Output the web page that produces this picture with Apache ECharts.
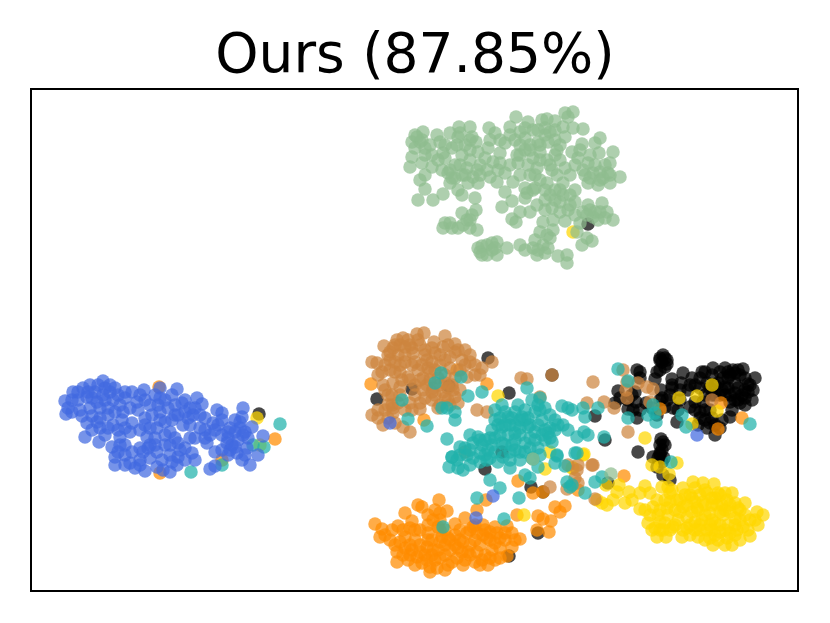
<!DOCTYPE html>
<html><head><meta charset="utf-8">
<script src="https://cdn.jsdelivr.net/npm/echarts@6/dist/echarts.min.js"></script>
<style>html,body{margin:0;background:#fff}#c{width:830px;height:623px}</style></head>
<body><div id="c"></div>
<script>
const titleText = "Ours (87.85%)";
const black = [[663,355],[662,362],[667,364],[637,370],[640,372],[657,372],[655,379],[683,373],[672,379],[681,383],[702,372],[713,368],[725,368],[743,369],[755,378],[700,378],[712,375],[723,378],[735,373],[745,378],[735,383],[725,387],[753,390],[745,390],[735,393],[725,395],[752,400],[740,403],[730,402],[707,383],[695,385],[672,388],[661,390],[688,390],[703,402],[700,412],[690,407],[667,400],[665,407],[673,408],[618,391],[635,392],[636,402],[615,403],[628,409],[637,418],[646,403],[657,415],[677,422],[730,417],[710,423],[707,428],[715,435],[700,418],[595,416],[605,440],[638,452],[661,439],[665,445],[660,453],[662,462],[657,467],[658,458],[660,455],[653,457],[670,480],[663,475],[608,483],[588,224],[259,414],[552,375],[412,389],[377,399],[488,358],[449,386],[509,393],[485,469],[531,487],[543,492],[538,533],[509,556],[502,452],[715,385],[728,378],[738,388],[748,384],[720,395],[705,395],[732,410],[742,395],[720,372],[730,375],[740,375],[715,395],[735,400],[745,398],[710,410],[695,410],[705,410],[728,388],[748,392],[733,370],[718,383],[705,372],[692,378],[660,358],[665,358],[640,378],[628,400],[633,410],[670,395],[660,400],[678,410],[698,425],[712,418],[722,420],[660,445],[662,450],[664,458],[663,442],[728,372],[738,370],[750,385],[722,390],[712,395],[730,395],[738,400],[745,405],[700,388],[710,388],[690,385],[680,390],[662,398],[652,408],[640,410],[620,398],[632,395],[660,370],[672,385],[680,400],[695,402],[705,420],[715,425],[720,428],[667,360],[665,367],[660,360]];
const orange = [[375,524],[382,529],[380,537],[390,540],[398,526],[405,513],[412,521],[418,505],[422,507],[439,500],[435,510],[447,511],[428,515],[440,520],[428,525],[455,524],[465,518],[483,525],[495,527],[507,526],[512,533],[520,539],[405,537],[415,540],[428,533],[440,542],[455,535],[467,533],[477,533],[487,538],[500,538],[397,552],[397,562],[405,548],[417,557],[427,547],[422,563],[430,567],[437,568],[440,558],[448,565],[457,558],[458,548],[475,562],[477,552],[488,565],[500,558],[507,556],[492,550],[512,547],[480,545],[463,542],[412,550],[438,550],[450,550],[445,545],[470,545],[485,530],[473,527],[432,555],[452,562],[462,552],[495,543],[400,542],[410,545],[420,545],[432,540],[445,530],[460,530],[475,540],[490,532],[505,540],[395,545],[420,530],[415,530],[435,560],[445,555],[468,552],[485,555],[495,560],[482,560],[450,540],[410,555],[425,555],[465,560],[500,548],[475,525],[440,530],[385,535],[392,530],[403,530],[410,528],[433,520],[440,513],[403,555],[408,560],[415,565],[427,560],[433,550],[442,537],[455,545],[460,540],[470,530],[483,535],[490,540],[497,533],[505,533],[515,540],[480,565],[490,558],[470,555],[463,565],[445,570],[430,572],[420,552],[428,540],[438,527],[448,538],[518,481],[486,500],[533,493],[543,492],[517,515],[477,510],[538,516],[543,519],[551,521],[555,507],[560,512],[565,506],[537,530],[549,532],[159,387],[160,473],[222,460],[275,439],[371,384],[457,370],[487,384],[424,420],[721,403],[742,418],[718,429],[660,409],[624,476],[578,490]];
const gold = [[619,485],[617,492],[597,500],[602,503],[607,505],[613,500],[625,503],[629,492],[632,500],[640,493],[645,486],[650,493],[662,487],[668,487],[670,493],[683,488],[693,482],[703,483],[714,484],[695,488],[707,493],[718,493],[732,493],[745,503],[640,509],[657,500],[653,507],[667,508],[648,523],[658,515],[665,523],[677,500],[687,505],[697,508],[703,502],[717,505],[727,500],[738,508],[687,517],[710,513],[723,515],[735,518],[757,512],[763,515],[750,520],[758,525],[657,537],[666,537],[673,527],[682,537],[687,528],[698,537],[707,530],[705,540],[713,545],[720,532],[727,538],[732,545],[737,530],[750,536],[743,527],[715,523],[655,528],[695,522],[680,512],[702,520],[728,525],[722,505],[692,498],[660,530],[665,500],[675,510],[690,495],[700,495],[712,498],[735,503],[725,510],[712,520],[700,530],[690,535],[678,520],[668,515],[660,522],[650,515],[720,525],[730,533],[745,515],[735,525],[715,535],[705,515],[720,495],[730,505],[692,512],[740,540],[710,525],[672,490],[685,495],[705,490],[715,498],[725,493],[740,510],[755,520],[748,530],[735,535],[725,545],[718,540],[700,525],[695,530],[683,530],[675,525],[670,530],[663,530],[652,530],[660,510],[645,510],[680,500],[683,507],[695,502],[705,505],[712,505],[720,512],[730,512],[740,520],[725,530],[712,530],[690,525],[670,502],[710,538],[698,510],[606,485],[652,465],[660,467],[669,474],[677,463],[712,385],[697,396],[679,398],[717,411],[692,424],[645,438],[583,455],[573,232],[257,418],[260,445],[498,396],[545,469],[572,468],[524,515],[550,452],[573,468],[584,454]];
const peru = [[424,333],[417,334],[403,338],[397,340],[384,346],[393,348],[405,347],[418,340],[445,336],[434,342],[455,344],[443,347],[465,350],[413,353],[398,355],[390,360],[405,362],[427,360],[435,353],[450,357],[462,360],[470,362],[492,362],[482,368],[475,375],[467,377],[372,362],[377,363],[382,372],[378,375],[395,372],[408,377],[418,370],[428,368],[450,368],[383,385],[393,383],[400,387],[423,378],[388,395],[423,390],[432,400],[448,388],[443,392],[455,397],[458,403],[445,398],[372,415],[378,410],[393,408],[392,405],[410,403],[420,403],[420,409],[383,425],[395,423],[410,432],[403,427],[393,413],[438,408],[477,410],[487,412],[521,378],[527,379],[540,397],[552,375],[410,345],[440,365],[455,378],[412,365],[400,372],[438,378],[433,388],[400,345],[412,348],[425,350],[440,355],[455,352],[470,355],[420,345],[430,372],[400,365],[390,370],[385,390],[402,380],[415,385],[425,398],[415,395],[440,385],[452,385],[400,395],[410,380],[385,410],[388,418],[450,405],[460,370],[445,360],[480,375],[425,355],[432,362],[390,352],[445,375],[415,362],[408,340],[395,345],[388,355],[432,348],[448,345],[458,350],[465,365],[475,365],[385,365],[395,362],[405,355],[422,365],[435,370],[420,380],[430,380],[445,383],[392,395],[398,403],[405,410],[412,410],[388,405],[378,418],[432,392],[427,385],[453,390],[440,405],[448,400],[435,395],[460,390],[623,370],[593,382],[627,382],[638,383],[626,390],[627,398],[647,387],[653,389],[587,403],[604,402],[614,408],[650,402],[628,432],[712,400],[578,465],[592,465],[550,487],[567,489],[575,478],[577,470],[568,465],[465,452],[595,499],[578,483],[593,465]];
const seagreen = [[495,410],[502,405],[518,405],[532,400],[540,398],[545,408],[562,406],[568,408],[572,410],[522,417],[508,417],[542,420],[555,420],[563,425],[492,430],[502,427],[515,433],[528,427],[548,433],[470,435],[473,443],[492,445],[482,445],[460,447],[452,457],[467,455],[480,453],[502,443],[508,435],[525,443],[538,448],[557,456],[552,442],[532,458],[568,430],[449,467],[452,457],[463,470],[473,458],[487,460],[503,457],[510,468],[520,460],[533,459],[538,467],[525,475],[557,455],[555,463],[565,466],[575,453],[490,480],[500,488],[477,498],[519,498],[504,519],[443,527],[530,478],[567,482],[570,487],[510,425],[520,420],[535,412],[530,438],[515,450],[545,440],[500,418],[512,445],[515,412],[525,410],[538,425],[550,428],[495,420],[490,438],[500,435],[520,435],[535,432],[510,452],[495,452],[488,450],[460,455],[465,448],[478,437],[515,425],[528,418],[540,410],[555,430],[530,448],[520,452],[545,430],[505,412],[485,455],[498,425],[512,418],[525,420],[538,405],[550,415],[558,425],[480,440],[485,440],[495,438],[505,445],[520,428],[530,425],[542,435],[550,438],[540,455],[470,450],[457,460],[490,458],[498,462],[510,460],[525,452],[535,440],[515,440],[505,425],[480,462],[470,465],[458,468],[595,482],[602,477],[585,493],[572,485],[441,373],[435,383],[461,377],[468,396],[482,392],[402,400],[408,419],[427,426],[442,408],[447,408],[455,412],[455,420],[447,439],[527,388],[618,369],[628,381],[598,408],[583,408],[585,417],[584,432],[588,435],[628,418],[653,405],[655,413],[648,415],[656,422],[682,415],[686,427],[750,424],[604,437],[671,462],[577,453],[577,437],[280,424],[253,445],[264,447],[191,472],[222,465]];
const sage = [[565,113],[573,112],[568,117],[516,117],[510,127],[528,122],[542,120],[547,119],[555,121],[563,127],[573,128],[583,129],[520,132],[533,130],[550,132],[565,137],[538,142],[525,138],[582,144],[600,138],[595,143],[613,152],[599,153],[572,152],[557,150],[540,152],[533,158],[417,137],[412,142],[423,132],[420,142],[437,135],[450,133],[459,127],[470,127],[458,137],[472,137],[476,142],[489,128],[495,133],[490,140],[412,157],[425,155],[410,167],[422,163],[432,167],[440,142],[452,148],[443,153],[457,145],[470,150],[478,152],[488,148],[505,143],[500,153],[517,155],[493,162],[442,170],[448,173],[467,168],[477,170],[473,177],[468,183],[450,183],[478,183],[490,177],[505,173],[497,182],[513,182],[528,165],[537,168],[547,160],[518,163],[420,180],[425,189],[418,200],[433,200],[443,194],[462,195],[475,198],[505,192],[512,201],[502,207],[527,193],[533,190],[525,198],[557,175],[563,183],[547,183],[570,175],[578,158],[588,163],[600,172],[610,163],[620,177],[610,183],[598,185],[588,183],[593,173],[608,173],[570,195],[550,195],[575,202],[560,202],[552,208],[568,210],[537,205],[588,205],[602,203],[607,212],[613,220],[593,217],[583,212],[598,220],[565,221],[580,223],[587,238],[582,245],[592,241],[577,232],[543,222],[553,230],[540,232],[550,238],[543,245],[533,248],[545,253],[537,255],[525,250],[520,245],[530,212],[520,212],[512,219],[516,222],[558,256],[567,255],[567,263],[445,223],[450,223],[443,228],[458,228],[462,213],[467,220],[476,210],[472,215],[470,228],[477,230],[478,248],[487,245],[497,242],[487,255],[497,255],[507,248],[492,250],[480,252],[535,175],[540,145],[545,190],[460,165],[415,148],[430,145],[445,145],[432,155],[462,155],[470,160],[455,165],[480,165],[510,135],[530,145],[545,135],[555,140],[560,160],[575,165],[590,155],[605,165],[600,180],[585,175],[550,165],[525,150],[510,165],[530,175],[540,180],[555,190],[563,195],[575,190],[600,212],[590,210],[570,205],[545,210],[465,175],[455,178],[480,175],[520,175],[540,160],[425,175],[485,158],[498,170],[520,145],[553,220],[548,248],[492,243],[482,246],[470,220],[438,160],[450,170],[500,140],[470,140],[555,155],[610,175],[595,212],[605,218],[460,133],[465,145],[445,158],[425,148],[462,175],[452,178],[458,190],[487,170],[500,163],[515,140],[525,128],[538,130],[545,128],[555,130],[548,142],[560,145],[530,150],[520,155],[535,188],[552,170],[565,168],[583,170],[595,165],[580,150],[590,178],[603,178],[555,200],[560,190],[575,215],[587,215],[545,200],[560,212],[535,240],[547,235],[538,250],[495,248],[482,255],[463,225],[452,228],[525,188],[422,140],[415,135],[611,474],[533,459]];
const blue = [[65,401],[73,392],[66,414],[72,412],[72,400],[83,388],[90,385],[103,381],[95,392],[87,397],[105,388],[115,388],[97,402],[90,408],[100,408],[113,400],[120,405],[108,415],[87,423],[97,422],[113,425],[105,435],[99,442],[85,437],[132,392],[144,390],[137,402],[130,408],[122,420],[138,410],[132,423],[120,437],[130,432],[140,430],[112,447],[120,445],[115,457],[115,465],[125,455],[130,463],[135,468],[145,471],[132,452],[140,448],[147,437],[150,458],[157,467],[170,472],[177,465],[160,388],[160,398],[150,405],[168,408],[177,389],[172,395],[182,403],[185,400],[197,398],[202,404],[178,415],[165,422],[157,428],[170,432],[183,425],[193,415],[200,428],[190,438],[178,443],[165,445],[157,452],[170,455],[178,457],[192,453],[195,460],[217,410],[222,413],[213,423],[205,418],[210,435],[207,443],[222,435],[227,443],[215,452],[230,428],[235,420],[243,408],[242,417],[252,427],[240,428],[238,440],[247,448],[237,453],[242,460],[250,465],[258,455],[263,436],[210,469],[215,466],[230,450],[222,450],[78,400],[80,410],[92,398],[105,400],[110,392],[125,398],[123,412],[115,412],[100,418],[92,416],[108,428],[125,428],[145,418],[152,415],[160,412],[175,405],[190,408],[188,418],[172,420],[155,438],[148,448],[162,460],[140,460],[125,445],[175,438],[185,448],[165,435],[195,438],[205,430],[218,425],[228,438],[232,445],[245,432],[235,432],[248,438],[68,408],[78,392],[88,392],[98,385],[110,385],[118,395],[108,408],[103,395],[82,416],[100,428],[92,430],[118,430],[118,452],[125,465],[140,465],[150,445],[143,452],[155,445],[163,470],[172,462],[185,460],[180,450],[170,445],[160,420],[150,428],[145,425],[158,405],[165,400],[175,415],[185,412],[195,408],[200,415],[190,425],[205,438],[215,430],[222,420],[228,432],[243,435],[228,455],[235,447],[245,455],[240,422],[155,395],[145,400],[140,395],[125,392],[390,423],[493,496],[476,518],[697,435]];
const seriesColors = ["#000000","#FF8C00","#FFD700","#CD853F","#20B2AA","#8FBC8F","#4169E1"];
const seriesData = [black, orange, gold, peru, seagreen, sage, blue];
const chart = echarts.init(document.getElementById('c'), null, {renderer:'canvas'});
chart.setOption({
  animation:false,
  backgroundColor:'#fff',
  title:{text:titleText,left:'center',top:25,textStyle:{fontFamily:'DejaVu Sans',fontSize:55,fontWeight:'normal',color:'#000'}},
  grid:{left:31,right:32,top:89,bottom:32,show:true,borderColor:'#000',borderWidth:2,backgroundColor:'#fff'},
  xAxis:{type:'value',min:31,max:798,show:false},
  yAxis:{type:'value',min:89,max:591,inverse:true,show:false},
  series:seriesData.map((d,i)=>({type:'scatter',data:d,symbolSize:13.5,silent:true,
    itemStyle:{color:seriesColors[i],opacity:0.72}}))
});
</script></body></html>
